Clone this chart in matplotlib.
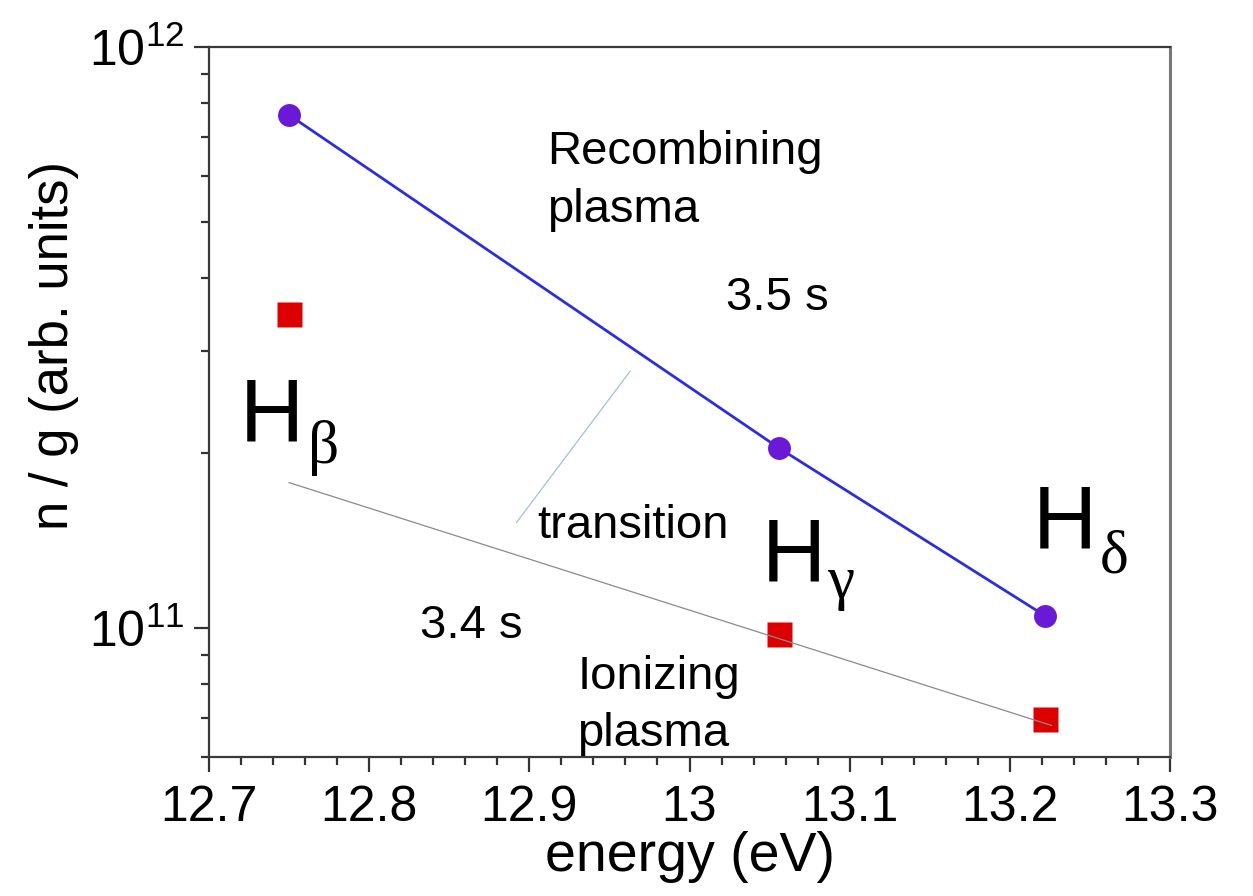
"""
Balmer line population plot: n/g vs upper level energy, log scale.
"""

import matplotlib.pyplot as plt
from matplotlib.ticker import MultipleLocator, FormatStrFormatter, LogLocator

plt.rcParams["font.family"] = ["Liberation Sans", "DejaVu Sans"]
plt.rcParams["mathtext.fontset"] = "custom"
plt.rcParams["mathtext.rm"] = "Liberation Sans"
plt.rcParams["mathtext.it"] = "Liberation Sans:italic"
plt.rcParams["mathtext.bf"] = "Liberation Sans:bold"

# upper level energies of H-beta, H-gamma, H-delta (eV)
energy = [12.75, 13.056, 13.222]
recombining = [7.64e11, 2.04e11, 1.05e11]   # 3.5 s
ionizing = [3.47e11, 9.77e10, 6.97e10]      # 3.4 s

# fitted line for the ionizing phase
fit_x = [12.75, 13.226]
fit_y = [1.78e11, 6.8e10]

# "transition" pointer line
trans_x = [12.892, 12.963]
trans_y = [1.52e11, 2.77e11]

line_names = ["β", "γ", "δ"]
h_pos = [(12.719, 2.10e11), (13.045, 1.21e11), (13.214, 1.379e11)]
sub_pos = [(12.762, 1.92e11), (13.086, 1.126e11), (13.256, 1.249e11)]


def main():
    fig = plt.figure(figsize=(12.53, 8.96), dpi=100)
    ax = fig.add_axes([0.1668, 0.1551, 0.767, 0.7924])

    ax.plot(energy, recombining, color="#2d2de0", lw=2.0, zorder=2)
    ax.plot(energy, recombining, "o", color="#6a1ad6", ms=16.5, mec="none", zorder=3)
    ax.plot(energy, ionizing, "s", color="#dd0000", ms=18, mec="none", zorder=3)
    ax.plot(fit_x, fit_y, color="#8a8a8a", lw=0.9, zorder=4)
    ax.plot(trans_x, trans_y, color="#a8bcdc", lw=0.9, zorder=2)

    ax.set_yscale("log")
    ax.set_xlim(12.7, 13.3)
    ax.set_ylim(6e10, 1e12)

    ax.xaxis.set_major_locator(MultipleLocator(0.1))
    ax.xaxis.set_minor_locator(MultipleLocator(0.02))
    ax.xaxis.set_major_formatter(FormatStrFormatter("%g"))
    ax.yaxis.set_major_locator(LogLocator(base=10, numticks=5))

    ax.tick_params(which="both", direction="out", top=False, right=False,
                   colors="#333333", labelcolor="black", width=1.6)
    ax.tick_params(which="major", length=11, labelsize=36)
    ax.tick_params(axis="x", which="major", pad=9)
    ax.tick_params(axis="y", which="major", pad=7)
    ax.tick_params(which="minor", length=6)

    for side in ["left", "bottom", "top"]:
        ax.spines[side].set_color("#3a3a3a")
        ax.spines[side].set_linewidth(1.6)
    ax.spines["right"].set_color("#777777")
    ax.spines["right"].set_linewidth(2.2)

    ax.set_xlabel("energy (eV)", fontsize=40, labelpad=0)
    ax.set_ylabel("n / g (arb. units)", fontsize=38)
    ax.yaxis.set_label_coords(-0.135, 0.58)

    # annotations
    ax.text(12.911, 7.2e11, "Recombining\nplasma", fontsize=34, va="top",
            ha="left", linespacing=1.4)
    ax.text(13.023, 3.70e11, "3.5 s", fontsize=34, va="center", ha="left")
    ax.text(12.905, 1.50e11, "transition", fontsize=34, va="center", ha="left")
    ax.text(12.832, 1.01e11, "3.4 s", fontsize=34, va="center", ha="left")
    ax.text(12.930, 9.0e10, "Ionizing\nplasma", fontsize=34, va="top",
            ha="left", linespacing=1.4)

    for name, (hx, hy), (sx, sy) in zip(line_names, h_pos, sub_pos):
        ax.text(hx, hy, "H", fontsize=64, va="baseline", ha="left")
        ax.text(sx, sy, name, fontsize=44, va="baseline", ha="left",
                family=["Liberation Serif", "DejaVu Serif"])

    fig.savefig("out.png", dpi=100)


if __name__ == "__main__":
    main()
